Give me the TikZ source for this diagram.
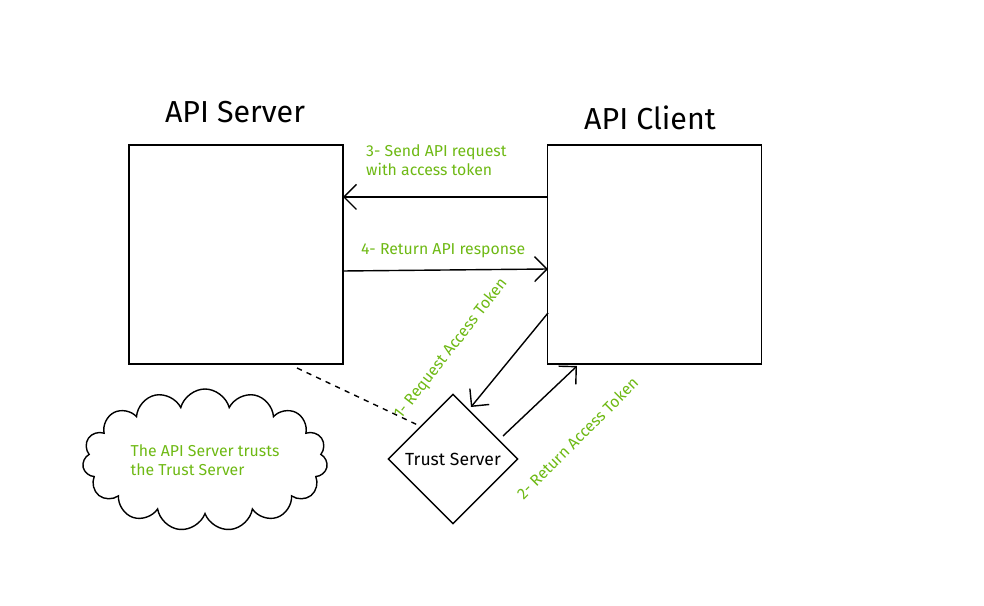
\documentclass[tikz,border=0pt]{standalone}
\usepackage{fontspec}
\setmainfont{Fira Sans}
\usepackage{tikz}
\usetikzlibrary{arrows.meta, positioning, shapes.geometric, shapes.symbols}
\definecolor{note}{RGB}{110,185,20}
\begin{document}
\begin{tikzpicture}[
    box/.style={draw, thick, minimum width=4.28cm, minimum height=4.38cm},
    lbl/.style={text=note, font=\small, align=left},
    flow/.style={thick, -{Straight Barb[length=2.5mm]}}]
    \useasboundingbox (0,0) rectangle (19.68,12.12);
    % Servers
    \node[box] (srv) at (4.72,7.03) {};
    \node[box] (cli) at (13.09,7.03) {};
    \node[font=\LARGE] (srvt) at (4.7,9.88) {API Server};
    \node[font=\LARGE] (clit) at (13.0,9.76) {API Client};
    % Trust server
    \node[draw, thick, diamond, minimum width=2.6cm, minimum height=2.6cm, inner sep=0pt] (trust) at (9.06,2.94) {Trust Server};
    \node[draw, thick, cloud, cloud puffs=15, aspect=2.1, minimum width=4.9cm, minimum height=2.6cm, lbl] (note) at (4.1,2.92) {The API Server trusts\\the Trust Server};
    % Requests
    \coordinate (c3) at (10.96,8.18);
    \coordinate (s3) at (6.86,8.18);
    \draw[flow] (c3) -- (s3);
    \coordinate (s4) at (6.86,6.7);
    \coordinate (c4) at (10.96,6.74);
    \draw[flow] (s4) -- (c4);
    \coordinate (c1) at (10.96,5.86);
    \coordinate (t1) at (9.42,3.98);
    \draw[flow] (c1) -- (t1);
    \coordinate (t2) at (10.06,3.4);
    \coordinate (c2) at (11.54,4.8);
    \draw[flow] (t2) -- (c2);
    \coordinate (s5) at (5.94,4.76);
    \draw[thick, dashed] (s5) -- (trust.north west);
    % Labels
    \node[lbl, anchor=north west] (l3) at (7.2,9.35) {3- Send API request\\with access token};
    \node[lbl, anchor=west] (l4) at (7.1,7.1) {4- Return API response};
    \node[lbl, rotate=52] (l1) at (9.02,5.14) {1- Request Access Token};
    \node[lbl, rotate=45] (l2) at (11.55,3.36) {2- Return Access Token};
\end{tikzpicture}
\end{document}
